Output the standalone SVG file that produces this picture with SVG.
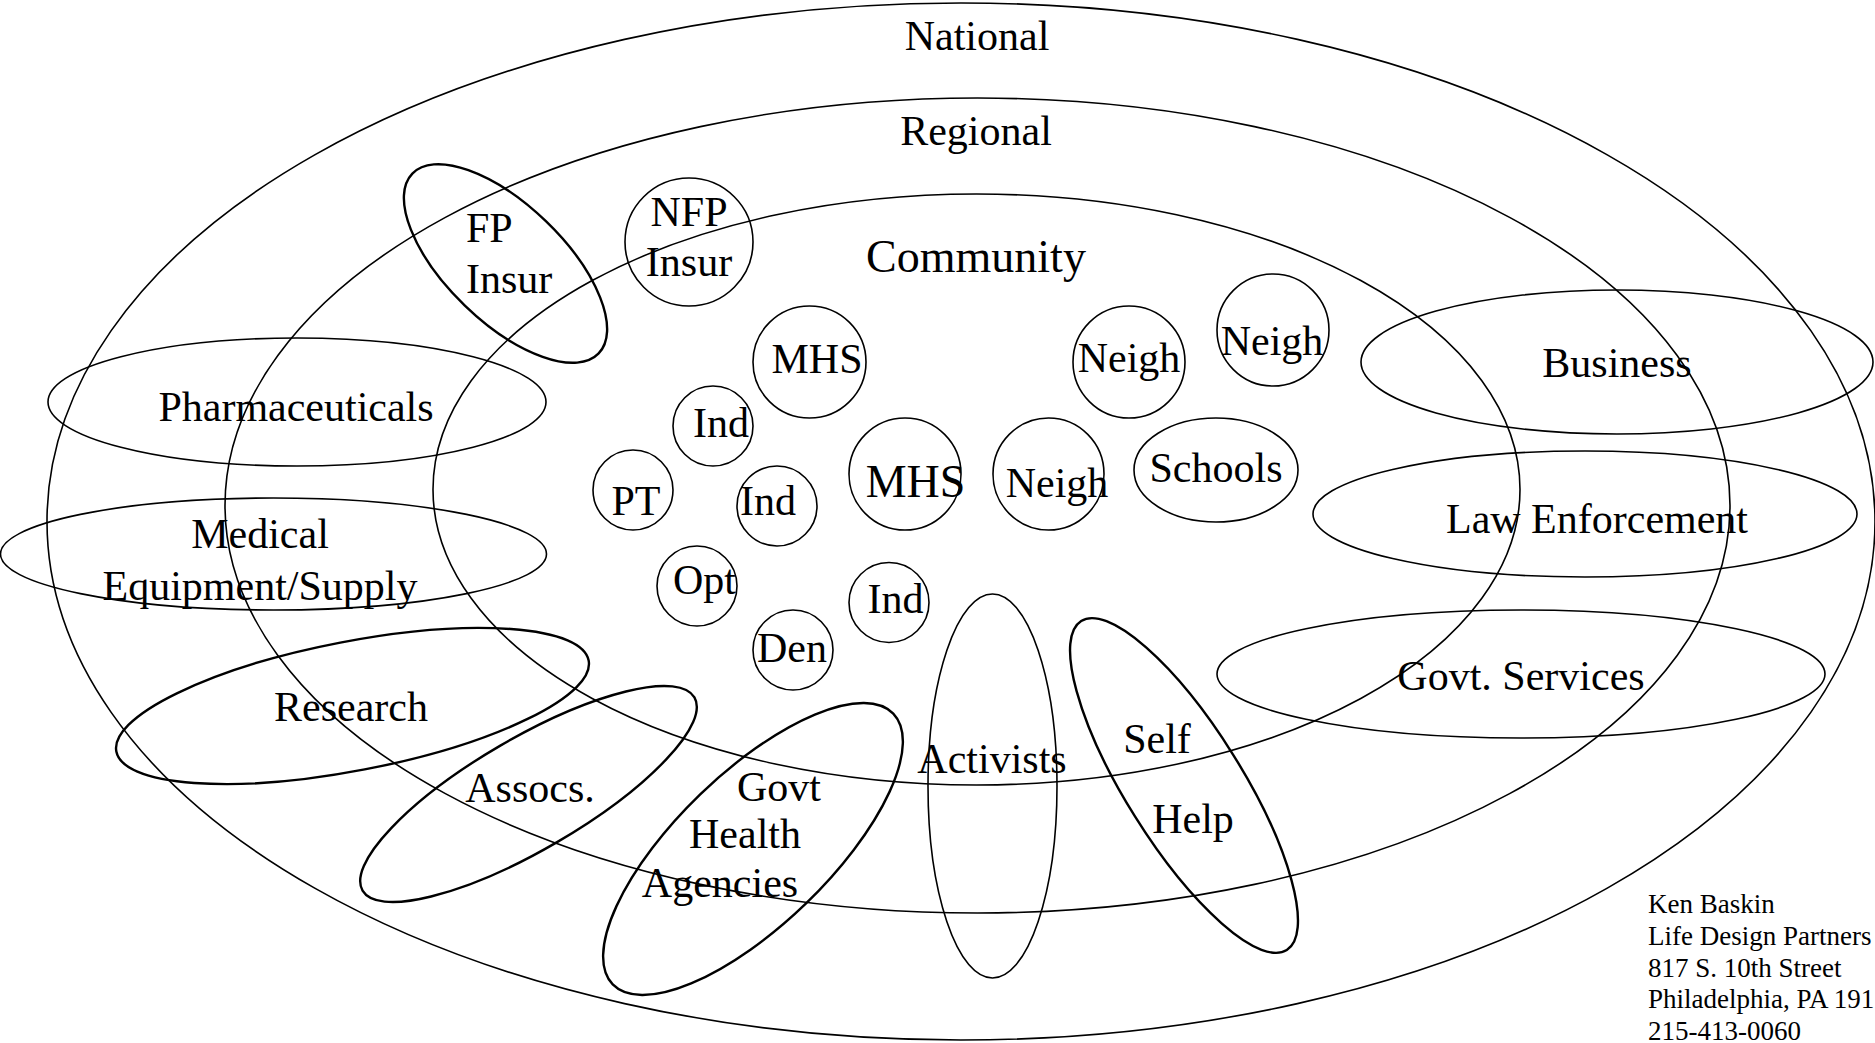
<svg xmlns="http://www.w3.org/2000/svg" width="1875" height="1043" viewBox="0 0 1875 1043">
<style>
  .e { fill: none; stroke: #000; stroke-width: 1.6; }
  .t { fill: none; stroke: #000; stroke-width: 2.4; }
  text { font-family: "Liberation Serif", "Times New Roman", serif; font-size: 42px; fill: #000; text-anchor: middle; }
  .addr { font-size: 27px; text-anchor: start; }
</style>
<rect width="1875" height="1043" fill="#fff"/>
<g id="national"><ellipse class="e" cx="961" cy="521.5" rx="914" ry="518.5"/><text x="977" y="50">National</text></g>
<g id="regional"><ellipse class="e" cx="977.5" cy="505.5" rx="752.5" ry="407.5"/><text x="976" y="145">Regional</text></g>
<g id="community"><ellipse class="e" cx="976.5" cy="489.5" rx="543.5" ry="295.5"/><text x="976" y="272" style="font-size:46px">Community</text></g>
<g id="fp-insur"><ellipse class="t" cx="505.5" cy="263.5" rx="129.5" ry="58.5" transform="rotate(44 505.5 263.5)"/><text x="466" y="242" style="text-anchor:start">FP</text><text x="466" y="293" style="text-anchor:start">Insur</text></g>
<g id="nfp-insur"><ellipse class="e" cx="689" cy="242" rx="64" ry="64"/><text x="689" y="226">NFP</text><text x="689" y="276">Insur</text></g>
<g id="mhs1"><ellipse class="e" cx="809.5" cy="362" rx="56.5" ry="56"/><text x="817" y="373">MHS</text></g>
<g id="ind1"><ellipse class="e" cx="713" cy="426" rx="40" ry="40"/><text x="721" y="437">Ind</text></g>
<g id="pt"><ellipse class="e" cx="633" cy="490" rx="40" ry="40"/><text x="636" y="515">PT</text></g>
<g id="ind2"><ellipse class="e" cx="777" cy="506" rx="40" ry="40"/><text x="768" y="515">Ind</text></g>
<g id="mhs2"><ellipse class="e" cx="905" cy="474" rx="56" ry="56"/><text x="915.5" y="497" style="font-size:46px">MHS</text></g>
<g id="neigh1"><ellipse class="e" cx="1048.5" cy="474" rx="55.5" ry="56"/><text x="1057" y="497">Neigh</text></g>
<g id="schools"><ellipse class="e" cx="1216" cy="470" rx="82" ry="52"/><text x="1216" y="482">Schools</text></g>
<g id="neigh2"><ellipse class="e" cx="1129" cy="362" rx="56" ry="56"/><text x="1129" y="372">Neigh</text></g>
<g id="neigh3"><ellipse class="e" cx="1273" cy="330" rx="56" ry="56"/><text x="1272" y="355">Neigh</text></g>
<g id="opt"><ellipse class="e" cx="697" cy="586" rx="40" ry="40"/><text x="704.5" y="594">Opt</text></g>
<g id="den"><ellipse class="e" cx="793" cy="650" rx="40" ry="40"/><text x="792" y="662">Den</text></g>
<g id="ind3"><ellipse class="e" cx="889" cy="602.5" rx="40" ry="40"/><text x="895.5" y="613">Ind</text></g>
<g id="business"><ellipse class="e" cx="1617" cy="362" rx="256" ry="72"/><text x="1617" y="377">Business</text></g>
<g id="law"><ellipse class="e" cx="1585" cy="514" rx="272" ry="63"/><text x="1597" y="533">Law Enforcement</text></g>
<g id="govt-services"><ellipse class="e" cx="1521" cy="674" rx="304" ry="64"/><text x="1521" y="690">Govt. Services</text></g>
<g id="self-help"><ellipse class="t" cx="1184" cy="785.5" rx="194" ry="58" transform="rotate(58 1184 785.5)"/><text x="1157" y="753">Self</text><text x="1193" y="833">Help</text></g>
<g id="activists"><ellipse class="e" cx="992.5" cy="786" rx="64.5" ry="192"/><text x="992" y="773">Activists</text></g>
<g id="govt-health"><ellipse class="t" cx="753" cy="849" rx="195" ry="76" transform="rotate(-44 753 849)"/><text x="779" y="801">Govt</text><text x="745" y="848">Health</text><text x="720" y="897">Agencies</text></g>
<g id="assocs"><ellipse class="t" cx="528.5" cy="794" rx="192" ry="56" transform="rotate(-30.2 528.5 794)"/><text x="530" y="802">Assocs.</text></g>
<g id="research"><ellipse class="t" cx="352.5" cy="706" rx="240.5" ry="64.6" transform="rotate(-10.9 352.5 706)"/><text x="351" y="721">Research</text></g>
<g id="pharma"><ellipse class="e" cx="297" cy="402" rx="249" ry="64"/><text x="296" y="421">Pharmaceuticals</text></g>
<g id="medical"><ellipse class="e" cx="273.5" cy="554" rx="273" ry="56"/><text x="260" y="548">Medical</text><text x="260" y="600">Equipment/Supply</text></g>
<g id="address"><text class="addr" x="1648" y="913">Ken Baskin</text><text class="addr" x="1648" y="945">Life Design Partners</text><text class="addr" x="1648" y="977">817 S. 10th Street</text><text class="addr" x="1648" y="1008">Philadelphia, PA 191</text><text class="addr" x="1648" y="1040">215-413-0060</text></g>
<g id="connectors"></g>
</svg>
